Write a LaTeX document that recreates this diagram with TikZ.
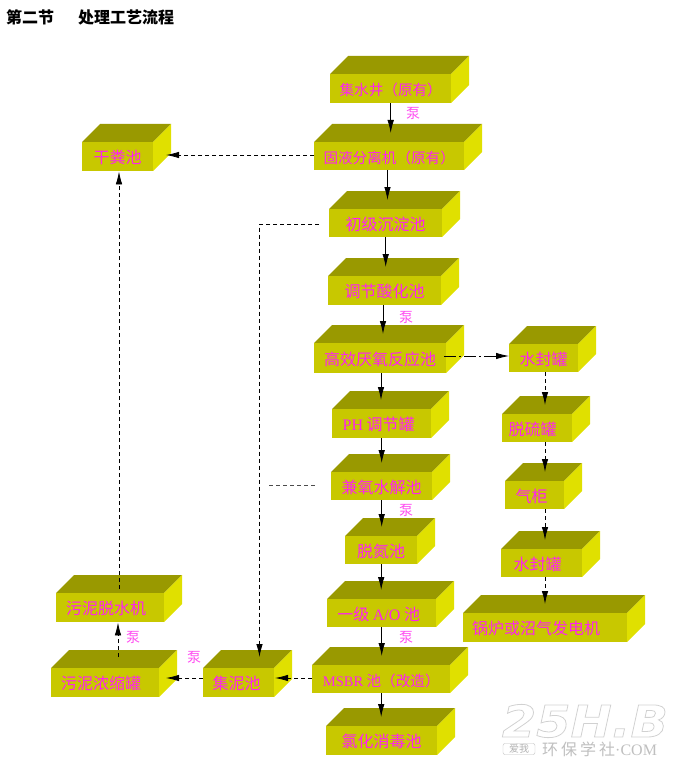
\documentclass[tikz,border=0pt]{standalone}
\usepackage{fontspec}
\usetikzlibrary{arrows.meta,calc}
\setmainfont{Liberation Serif}
\newfontfamily\cjk{Noto Sans CJK SC}
\newfontfamily\marchiofont[FakeStretch=1.12]{DejaVu Sans}
\definecolor{topcol}{HTML}{999900}
\definecolor{frontcol}{HTML}{C8C800}
\definecolor{sidecol}{HTML}{E0E000}
\definecolor{labelcol}{HTML}{FF22EE}
\tikzset{
  vascabox/.style={fill=frontcol,inner sep=0pt,anchor=north west,text=labelcol,font=\cjk\fontsize{16}{16}\selectfont},
  pompa/.style={text=labelcol!80!white,inner sep=0pt,font=\cjk\fontsize{14}{14}\selectfont},
  flow/.style={-{Latex[length=13pt,width=6.5pt]},line width=0.8pt},
  flowdash/.style={flow,dash pattern=on 4pt off 3pt},
  flowdot/.style={flow,dash pattern=on 12pt off 3pt on 2pt off 3pt}
}
% box: name, x0, y0, x1, y1, text (point t sits on the top face)
\newcommand{\vasca}[6]{
  \fill[topcol] (#2,#3) -- (#2+18,#3-18) -- (#4+18,#3-18) -- (#4,#3) -- cycle;
  \fill[sidecol] (#4,#3) -- (#4+18,#3-18) -- (#4+18,#5-18) -- (#4,#5) -- cycle;
  \node[vascabox,minimum width={(#4-#2)*1pt},minimum height={(#5-#3)*1pt}] (#1) at (#2,#3) {\raisebox{-2pt}[0.8em][0.2em]{#6}};
  \coordinate (#1-t) at ($(#2,#3)!0.5!(#4,#3)+(0,-9)$);
}
\newcommand{\picc}{\fontsize{14.6}{15}\selectfont}
\begin{document}
\begin{tikzpicture}[x=1pt,y=-1pt]
  \useasboundingbox (0,0) rectangle (674,762);
  % titolo
  \node[inner sep=0pt,anchor=west,font=\cjk\bfseries\fontsize{16}{16}\selectfont] (titolo) at (6,17) {第二节\hspace{24pt}处理工艺流程};

  % colonna centrale
  \vasca{jishui}{330}{74}{451}{103}{\picc 集水井（原有）}
  \vasca{guye}{314}{142}{464}{170}{\picc 固液分离机（原有）}
  \vasca{chuji}{329}{209}{442}{237}{初级沉淀池}
  \vasca{tiaojie}{328}{276}{441}{305}{调节酸化池}
  \vasca{yanyang}{314}{343}{446}{373}{高效厌氧反应池}
  \vasca{phtank}{332}{409}{431}{438}{\kern-6pt{\rmfamily PH} 调节罐}
  \vasca{jianyang}{331}{472}{432}{500}{兼氧水解池}
  \vasca{tuodan}{345}{536}{417}{564}{脱氮池}
  \vasca{aotank}{327}{599}{436}{627}{\kern-6pt一级 {\rmfamily A/O} 池}
  \vasca{msbr}{312}{665}{450}{693}{\picc {\rmfamily MSBR} 池（改造）}
  \vasca{lvhua}{326}{726}{437}{755}{氯化消毒池}

  % colonna destra
  \vasca{fengA}{509}{344}{578}{372}{水封罐}
  \vasca{tuoliu}{502}{414}{572}{442}{\kern-9pt脱硫罐}
  \vasca{qigui}{505}{481}{564}{509}{\kern-6pt气柜}
  \vasca{fengB}{501}{549}{582}{577}{\kern-8pt水封罐}
  \vasca{guolu}{463}{613}{627}{642}{\kern-18pt锅炉或沼气发电机}

  % fanghi
  \vasca{ganfen}{82}{142}{153}{171}{干粪池}
  \vasca{tuoshui}{56}{593}{164}{622}{\kern-8pt污泥脱水机}
  \vasca{nongsuo}{51}{668}{159}{697}{\kern-8pt污泥浓缩罐}
  \vasca{jini}{203}{668}{274}{697}{\kern-4pt集泥池}

  % frecce piene
  \draw[flow] (jishui.south) -- (jishui.south |- guye-t);
  \draw[flow] (387.5,170) coordinate (a1) -- (a1 |- chuji-t);
  \draw[flow] (chuji.south) -- (chuji.south |- tiaojie-t);
  \draw[flow] (383,305) coordinate (a2) -- (a2 |- yanyang-t);
  \draw[flow] (381,373) coordinate (a3) -- (a3 |- phtank-t);
  \draw[flow] (phtank.south) -- (phtank.south |- jianyang-t);
  \draw[flow] (jianyang.south) -- (jianyang.south |- tuodan-t);
  \draw[flow] (tuodan.south) -- (tuodan.south |- aotank-t);
  \draw[flow] (aotank.south) -- (aotank.south |- msbr-t);
  \draw[flow] (msbr.south) -- (msbr.south |- lvhua-t);

  % frecce tratteggiate
  \draw[flowdot] (444,356) coordinate (b1) -- (b1 -| fengA.west);
  \draw[flowdash] (545,372) coordinate (b2) -- (b2 |- tuoliu-t);
  \draw[flowdash] (545,442) coordinate (b3) -- (b3 |- qigui-t);
  \draw[flowdash] (545,509) coordinate (b4) -- (b4 |- fengB-t);
  \draw[flowdash] (545,577) coordinate (b5) -- (b5 |- guolu-t);
  \draw[flowdash] (guye.west |- 0,155) coordinate (c1) -- (166,155);
  \draw[flowdash] (118,657) coordinate (c2) -- (c2 |- tuoshui.south);
  \draw[flowdash] (119,589) coordinate (c3) -- (c3 |- ganfen.south);
  \draw[flowdash] (msbr.west |- 0,678) -- (275,678);
  \draw[flowdash] (jini.west |- 0,678) -- (166,678);
  \draw[flowdash] (319,224) -- (259.5,224) -- (259.5,657);
  \draw[dash pattern=on 4pt off 3pt,line width=0.8pt,black!70] (269,485) coordinate (c4) -- (316,485);

  % etichette pompa
  \node[pompa] (p1) at (413,113) {泵};
  \node[pompa] (p2) at (406,317) {泵};
  \node[pompa] (p3) at (406,510) {泵};
  \node[pompa] (p4) at (406,637) {泵};
  \node[pompa] (p5) at (133,637) {泵};
  \node[pompa] (p6) at (194,657) {泵};

  % marchio
  \node[inner sep=0pt,text=black!18,font=\marchiofont\bfseries\itshape\fontsize{44}{44}\selectfont] (marchio) at (585,721) {\special{pdf:code 1 Tr 0.8 w}25H.B\special{pdf:code 0 Tr}};
  \node[draw=black!25,rounded corners=2pt,inner sep=0pt,minimum width=32pt,minimum height=11pt,text=black!30,font=\cjk\fontsize{10}{10}\selectfont] (aiwo) at (519,749) {爱我};
  \node[text=black!25,inner sep=0pt,anchor=west,font=\cjk\fontsize{16}{16}\selectfont] (sito) at (542,749) {环\kern3pt保\kern3pt学\kern3pt社{\rmfamily ·COM}};
\end{tikzpicture}
\end{document}
